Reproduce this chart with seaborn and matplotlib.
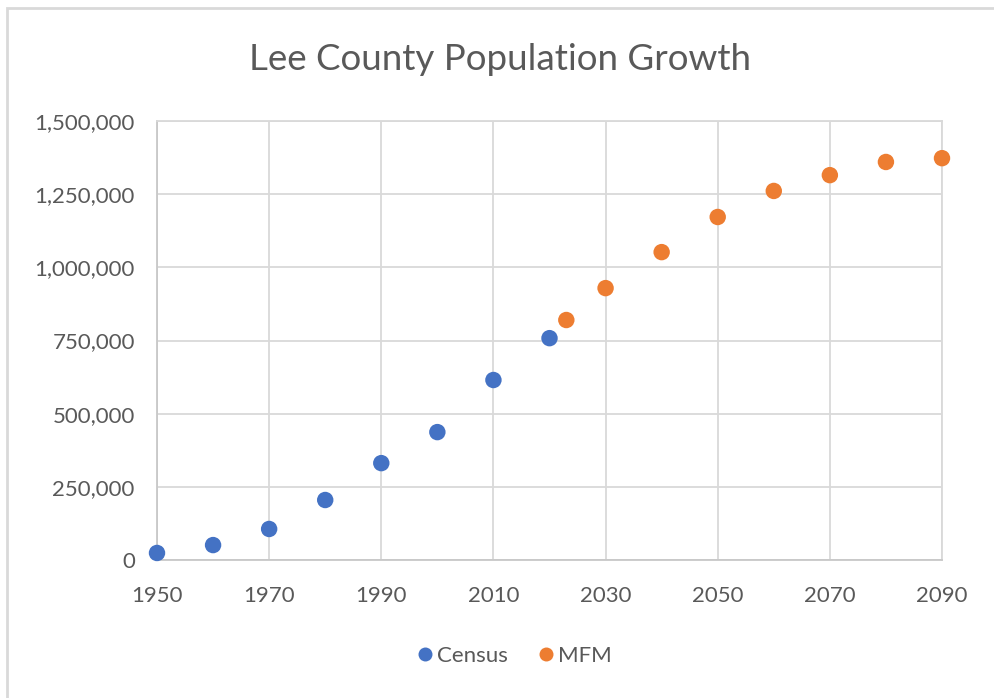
import pandas as pd
import matplotlib.pyplot as plt
import seaborn as sns
from matplotlib.ticker import FuncFormatter
from matplotlib.patches import Rectangle

# data
census_years = [1950, 1960, 1970, 1980, 1990, 2000, 2010, 2020]
census_pop = [24000, 51000, 106000, 205000, 331000, 437000, 615000, 758000]
mfm_years = [2023, 2030, 2040, 2050, 2060, 2070, 2080, 2090]
mfm_pop = [820000, 929000, 1052000, 1172000, 1261000, 1315000, 1360000, 1373000]

df = pd.concat([
    pd.DataFrame({'Year': census_years, 'Population': census_pop, 'Series': 'Census'}),
    pd.DataFrame({'Year': mfm_years, 'Population': mfm_pop, 'Series': 'MFM'}),
])

sns.set_style('white')
plt.rcParams['font.family'] = ['Lato', 'DejaVu Sans']
text_col = '#595959'
grid_col = '#D9D9D9'

fig = plt.figure(figsize=(9.95, 6.98), dpi=100)
ax = fig.add_axes([157 / 995, 1 - 560 / 698, (942 - 157) / 995, (560 - 121) / 698])

sns.scatterplot(data=df, x='Year', y='Population', hue='Series',
                palette={'Census': '#4472C4', 'MFM': '#ED7D31'},
                s=140, edgecolor='none', ax=ax, zorder=3, clip_on=False)

ax.set_xlim(1950, 2090)
ax.set_ylim(0, 1500000)
ax.set_xticks(range(1950, 2091, 20))
ax.set_yticks(range(0, 1500001, 250000))
ax.yaxis.set_major_formatter(FuncFormatter(lambda v, p: f'{int(v):,}'))
ax.grid(True, color=grid_col, linewidth=1.3)
ax.set_axisbelow(True)
for sp in ax.spines.values():
    sp.set_color(grid_col)
    sp.set_linewidth(1.3)
ax.spines['left'].set_color('#C8C8C8')
ax.spines['bottom'].set_color('#C8C8C8')
ax.tick_params(axis='both', colors=text_col, labelsize=16, length=0)
ax.tick_params(axis='y', pad=16)
ax.tick_params(axis='x', pad=19)
ax.set_xlabel('')
ax.set_ylabel('')

fig.text(0.503, 1 - 60 / 698, 'Lee County Population Growth', ha='center', va='center',
         fontsize=26.5, color=text_col)

handles, labels = ax.get_legend_handles_labels()
ax.legend(handles, labels, loc='center', bbox_to_anchor=(0.51, 1 - 656 / 698),
          bbox_transform=fig.transFigure, ncol=2, frameon=False, fontsize=16,
          labelcolor=text_col, handletextpad=-0.45, columnspacing=0.7, markerscale=0.85)

# chart-area border
fig.patches.append(Rectangle((7 / 995, -0.01), 1.02, 1 - 8 / 698 + 0.01,
                             transform=fig.transFigure, fill=False,
                             edgecolor=grid_col, linewidth=2))

fig.savefig('out.png', dpi=100)
